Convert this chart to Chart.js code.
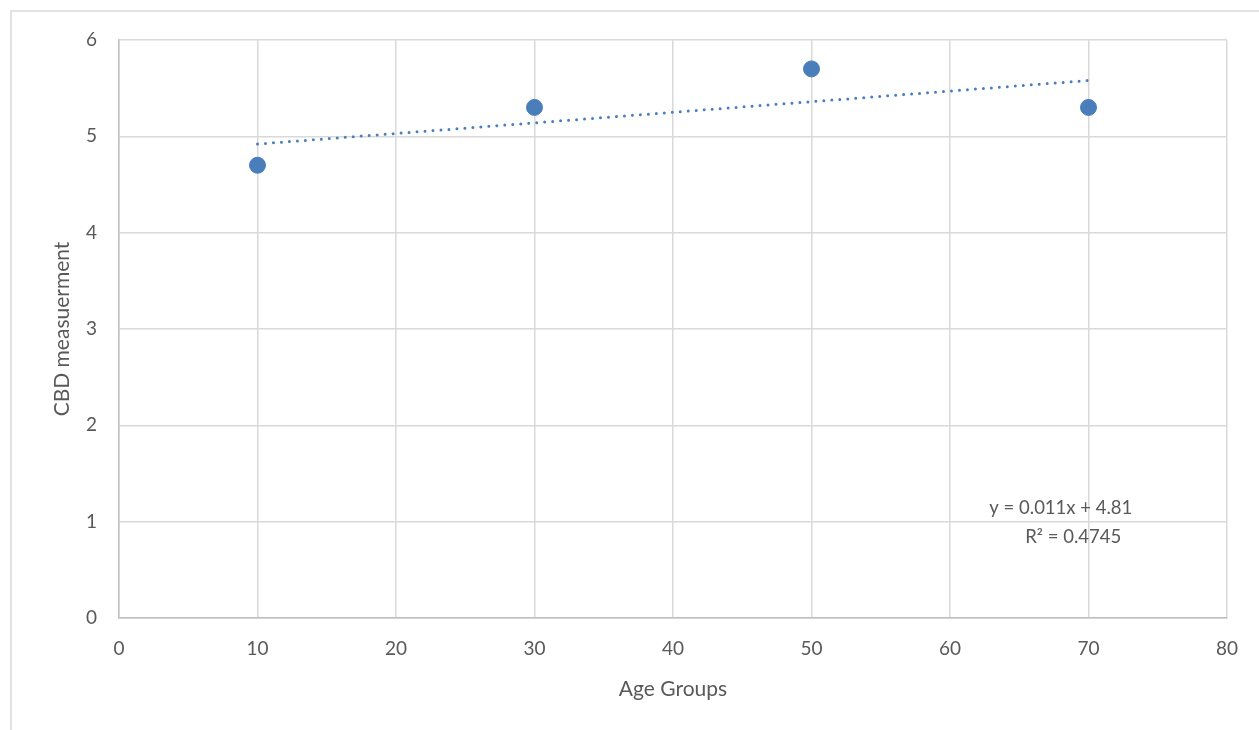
<!DOCTYPE html>
<html>
<head>
<meta charset="utf-8">
<script src="https://cdn.jsdelivr.net/npm/chart.js@4"></script>
<style>
  html, body { margin: 0; padding: 0; background: #fff; }
  #wrap { width: 1259px; height: 730px; position: relative; }
</style>
</head>
<body>
<div id="wrap"><canvas id="myChart"></canvas></div>
<script>
// values
const ageGroups = [10, 30, 50, 70];
const cbdValues = [4.7, 5.3, 5.7, 5.3];
const trendX = [10, 70];
const trendY = [4.92, 5.58];
const xTicks = [0, 10, 20, 30, 40, 50, 60, 70, 80];
const yTicks = [0, 1, 2, 3, 4, 5, 6];
const trendText = ["y = 0.011x + 4.81", "R\u00b2 = 0.4745"];

const blue = '#4a7ebb';
const grid = '#d9d9d9';
const txt = '#595959';
const fontName = "Lato, 'Open Sans', sans-serif";

// outer chart border + trendline label
const extras = {
    id: 'extras',
    beforeDraw(chart) {
        const ctx = chart.ctx;
        ctx.save();
        ctx.strokeStyle = grid;
        ctx.lineWidth = 1.5;
        ctx.strokeRect(11, 11, chart.width + 20, chart.height + 20);
        ctx.restore();
    },
    afterDraw(chart) {
        const ctx = chart.ctx;
        const xs = chart.scales.x, ys = chart.scales.y;
        ctx.save();
        ctx.fillStyle = txt;
        ctx.font = "18.5px " + fontName;
        ctx.textAlign = 'center';
        ctx.textBaseline = 'middle';
        ctx.fillText(trendText[0], xs.getPixelForValue(68.0), ys.getPixelForValue(1.14));
        ctx.fillText(trendText[1], xs.getPixelForValue(68.9), ys.getPixelForValue(0.84));
        ctx.restore();
    }
};

const ctx = document.getElementById("myChart").getContext("2d");
window.myChart = new Chart(ctx, {
    type: 'scatter',
    data: {
        datasets: [{
            label: 'CBD',
            data: ageGroups.map((a, i) => ({x: a, y: cbdValues[i]})),
            backgroundColor: blue,
            borderColor: blue,
            pointRadius: 8,
            pointHoverRadius: 8,
            order: 1
        }, {
            label: 'Trend',
            type: 'line',
            data: trendX.map((a, i) => ({x: a, y: trendY[i]})),
            borderColor: blue,
            borderWidth: 3,
            borderDash: [0, 8],
            borderCapStyle: 'round',
            pointRadius: 0,
            fill: false,
            order: 2
        }]
    },
    options: {
        responsive: true,
        maintainAspectRatio: false,
        animation: false,
        layout: { padding: { top: 40, right: 32, left: 0, bottom: 0 } },
        plugins: {
            legend: { display: false },
            tooltip: { enabled: false }
        },
        scales: {
            x: {
                type: 'linear',
                min: 0, max: 80,
                afterBuildTicks: s => { s.ticks = xTicks.map(v => ({value: v})); },
                afterFit: s => { s.height = 112; },
                grid: { color: grid, lineWidth: 1.5, drawTicks: false },
                border: { color: '#bfbfbf', width: 1.5 },
                ticks: { color: txt, font: { size: 19, family: fontName }, padding: 19 },
                title: { display: true, text: 'Age Groups', color: txt, font: { size: 21, family: fontName }, padding: { top: 0, bottom: 28 } }
            },
            y: {
                min: 0, max: 6,
                afterBuildTicks: s => { s.ticks = yTicks.map(v => ({value: v})); },
                afterFit: s => { s.width = 119; },
                grid: { color: grid, lineWidth: 1.5, drawTicks: false },
                border: { color: '#bfbfbf', width: 1.5 },
                ticks: { color: txt, font: { size: 19, family: fontName }, padding: 22 },
                title: { display: true, text: 'CBD measuerment', color: txt, font: { size: 21, family: fontName }, padding: { top: 50, bottom: 0 } }
            }
        }
    },
    plugins: [extras]
});
</script>
</body>
</html>
